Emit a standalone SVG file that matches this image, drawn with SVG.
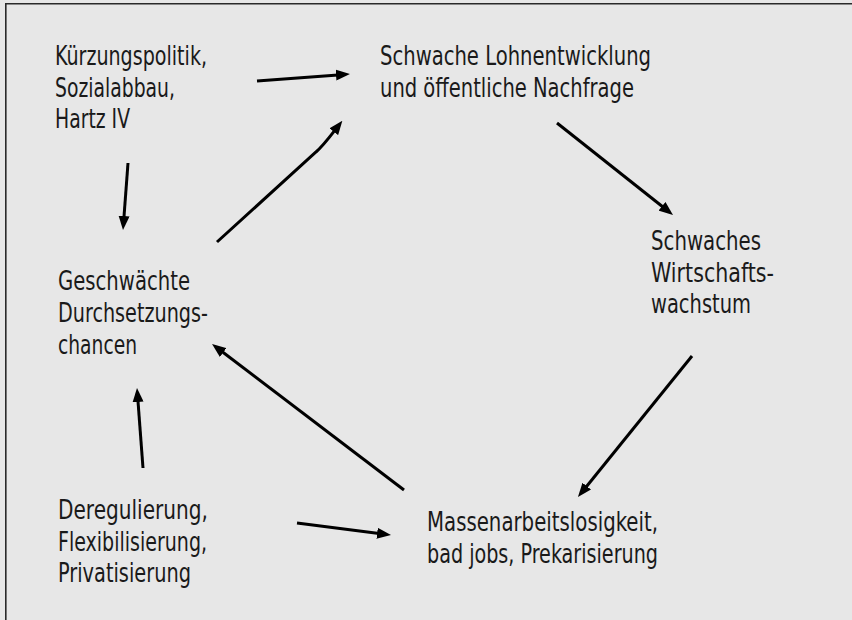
<svg xmlns="http://www.w3.org/2000/svg" width="852" height="620" viewBox="0 0 852 620">
<defs>
<style>
.bg{fill:#e7e7e7}
.frame{stroke:#2a2a2a;stroke-width:1.6;fill:none}
.t{font-family:"Liberation Sans Narrow","DejaVu Sans Condensed","Liberation Sans",sans-serif;font-size:26px;fill:#1a1a1a}
.c{stroke:#000;stroke-width:3;fill:none;stroke-linecap:butt}
</style>
<marker id="ah" viewBox="0 0 14 11" markerWidth="14" markerHeight="11" refX="2" refY="5.5" orient="auto" markerUnits="userSpaceOnUse">
<path d="M0,0 L14,5.5 L0,11 z" fill="#000"/>
</marker>
</defs>
<rect class="bg" x="0" y="0" width="852" height="620"/>
<path class="frame" d="M5.8,620 L5.8,3.8 L852,3.8"/>
<g id="connectors">
<path class="c" d="M257,81 L338,74.9" marker-end="url(#ah)"/>
<path class="c" d="M128,163 L123.9,218" marker-end="url(#ah)"/>
<path class="c" d="M217,242 L316,152 Q322,147 335,130.2" marker-end="url(#ah)"/>
<path class="c" d="M557,123 L663.6,207.5" marker-end="url(#ah)"/>
<path class="c" d="M692,356 L585.5,487.7" marker-end="url(#ah)"/>
<path class="c" d="M404,490 L221.6,351.3" marker-end="url(#ah)"/>
<path class="c" d="M143,468 L137.9,400" marker-end="url(#ah)"/>
<path class="c" d="M297,523 L379.1,533.5" marker-end="url(#ah)"/>
</g>
<g id="kuerzung">
<text class="t" x="55" y="65" textLength="152" lengthAdjust="spacingAndGlyphs">Kürzungspolitik,</text>
<text class="t" x="55" y="97" textLength="120" lengthAdjust="spacingAndGlyphs">Sozialabbau,</text>
<text class="t" x="55" y="128" textLength="75" lengthAdjust="spacingAndGlyphs">Hartz IV</text>
</g>
<g id="lohn">
<text class="t" x="380" y="65" textLength="271" lengthAdjust="spacingAndGlyphs">Schwache Lohnentwicklung</text>
<text class="t" x="380" y="97" textLength="254" lengthAdjust="spacingAndGlyphs">und öffentliche Nachfrage</text>
</g>
<g id="wachstum">
<text class="t" x="651" y="250" textLength="110" lengthAdjust="spacingAndGlyphs">Schwaches</text>
<text class="t" x="651" y="282" textLength="123" lengthAdjust="spacingAndGlyphs">Wirtschafts-</text>
<text class="t" x="651" y="313" textLength="100" lengthAdjust="spacingAndGlyphs">wachstum</text>
</g>
<g id="geschwaecht">
<text class="t" x="58" y="290" textLength="132" lengthAdjust="spacingAndGlyphs">Geschwächte</text>
<text class="t" x="58" y="322" textLength="150" lengthAdjust="spacingAndGlyphs">Durchsetzungs-</text>
<text class="t" x="58" y="354" textLength="79" lengthAdjust="spacingAndGlyphs">chancen</text>
</g>
<g id="massen">
<text class="t" x="427" y="531" textLength="231" lengthAdjust="spacingAndGlyphs">Massenarbeitslosigkeit,</text>
<text class="t" x="427" y="563" textLength="231" lengthAdjust="spacingAndGlyphs">bad jobs, Prekarisierung</text>
</g>
<g id="dereg">
<text class="t" x="58" y="519" textLength="150" lengthAdjust="spacingAndGlyphs">Deregulierung,</text>
<text class="t" x="58" y="551" textLength="149" lengthAdjust="spacingAndGlyphs">Flexibilisierung,</text>
<text class="t" x="58" y="582" textLength="133" lengthAdjust="spacingAndGlyphs">Privatisierung</text>
</g>
</svg>
